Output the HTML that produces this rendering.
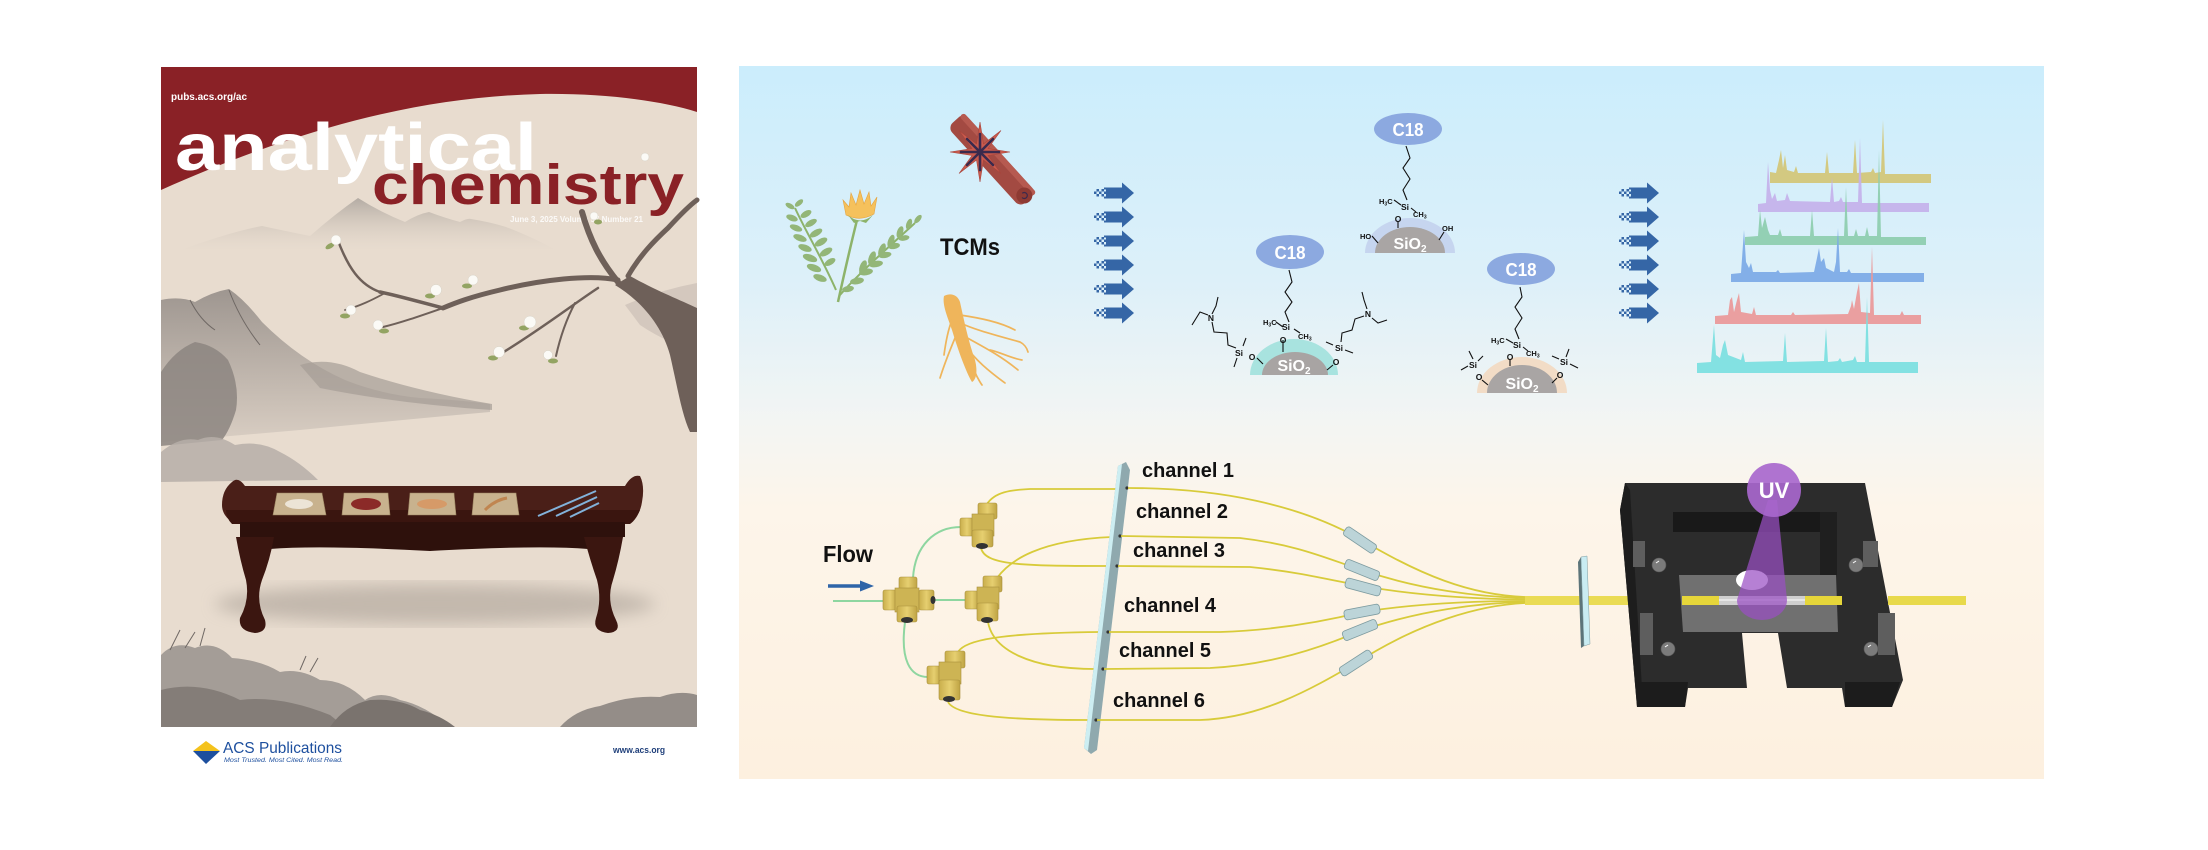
<!DOCTYPE html>
<html><head><meta charset="utf-8"><style>
html,body{margin:0;padding:0;background:#fff;}
svg{display:block;font-family:"Liberation Sans",Arial,sans-serif;}
</style></head><body>
<svg width="2208" height="850" viewBox="0 0 2208 850" xmlns="http://www.w3.org/2000/svg">
<defs>
<linearGradient id="pg" x1="0" y1="0" x2="0" y2="1">
<stop offset="0" stop-color="#cbedfc"/><stop offset="0.3" stop-color="#ddf0f9"/><stop offset="0.5" stop-color="#f3f5f3"/><stop offset="0.62" stop-color="#fdf5ea"/><stop offset="1" stop-color="#fdf0df"/>
</linearGradient>
<linearGradient id="m1" x1="0" y1="0" x2="0" y2="1"><stop offset="0" stop-color="#b3aba3"/><stop offset="1" stop-color="#e8dccf" stop-opacity="0.2"/></linearGradient>
<linearGradient id="m2" x1="0" y1="0" x2="0" y2="1"><stop offset="0" stop-color="#9e9690"/><stop offset="1" stop-color="#d9cec3"/></linearGradient>
<linearGradient id="fy" x1="0" y1="0" x2="1" y2="0"><stop offset="0" stop-color="#c9ae4c"/><stop offset="0.5" stop-color="#e6cf70"/><stop offset="1" stop-color="#bfa444"/></linearGradient>
<filter id="bl8"><feGaussianBlur stdDeviation="8"/></filter>
<g id="arr">
<rect x="0" y="-1.5" width="2.5" height="2.5" fill="#3566a6"/><rect x="2.5" y="-4" width="2.5" height="2.5" fill="#3566a6"/><rect x="2.5" y="1" width="2.5" height="2.5" fill="#3566a6"/><rect x="5" y="-1.5" width="2.5" height="2.5" fill="#3566a6"/><rect x="7.5" y="-4" width="2.5" height="2.5" fill="#3566a6"/><rect x="7.5" y="1" width="2.5" height="2.5" fill="#3566a6"/><rect x="10" y="-1.5" width="2.5" height="2.5" fill="#3566a6"/><rect x="10" y="-5.5" width="2" height="2" fill="#3566a6"/><rect x="10" y="3.5" width="2" height="2" fill="#3566a6"/>
<polygon points="12,-5.5 28,-5.5 28,-10.5 40,0 28,10.5 28,5.5 12,5.5" fill="#3566a6"/>
</g>
</defs>

<!-- ================= COVER ================= -->
<rect x="161" y="67" width="536" height="660" fill="#e8dccf"/>
<path d="M175,252 Q230,232 262,226 Q290,232 310,236 Q335,214 358,198 Q380,212 405,222 Q418,214 429,212 Q445,218 460,222 Q468,218 471,219 Q490,222 506,227 Q530,236 560,252 Z" fill="url(#m1)"/>
<path d="M625,305 Q660,290 697,283 V350 Q670,345 640,325 Z" fill="#c7bbb2" opacity="0.6"/>
<path d="M161,300 Q180,296 195,302 Q212,292 229,289 Q245,300 262,322 Q300,360 345,380 Q380,394 420,398 Q460,400 490,404 L490,412 Q400,420 300,430 L161,442 Z" fill="url(#m2)"/>
<path d="M300,365 Q330,356 360,372 Q420,392 492,404 L492,410 Q400,404 320,388 Z" fill="#a59d96" opacity="0.7"/>
<path d="M161,372 Q175,350 195,342 Q215,345 228,360 Q240,385 236,410 Q230,430 222,440 L161,446 Z" fill="#8c8580" opacity="0.85"/>
<path d="M190,300 Q200,320 215,330 M229,290 Q240,320 260,345" stroke="#6f6864" stroke-width="1" fill="none"/>
<path d="M161,452 Q180,436 198,440 Q215,432 235,445 Q260,440 280,452 Q300,462 318,480 L161,482 Z" fill="#b6aea8" opacity="0.85"/>
<path d="M161,67 H697 V112 C660,100 600,93 540,94 C420,97 300,128 161,190 Z" fill="#8a2126"/>
<text x="171" y="100" font-size="10" font-weight="bold" fill="#fff" textLength="76" lengthAdjust="spacingAndGlyphs">pubs.acs.org/ac</text>
<text x="175" y="170" font-size="67" font-weight="bold" fill="#fff" textLength="362" lengthAdjust="spacingAndGlyphs">analytical</text>
<text x="372" y="204" font-size="57" font-weight="bold" fill="#8a2126" textLength="312" lengthAdjust="spacingAndGlyphs">chemistry</text>
<text x="510" y="222" font-size="8" font-weight="bold" fill="#fff" opacity="0.85" textLength="133" lengthAdjust="spacingAndGlyphs">June 3, 2025  Volume 97  Number 21</text>
<!-- tree -->
<path d="M697,308 C680,300 655,290 630,276 L615,285 C640,300 662,325 670,355 C678,390 682,415 690,432 L697,432 Z" fill="#6e6059"/>
<g stroke="#6e6059" fill="none" stroke-linecap="round">
<path d="M618,282 C600,260 590,240 582,212" stroke-width="6"/>
<path d="M628,276 C640,255 655,240 668,228 C680,215 690,205 697,200" stroke-width="5"/>
<path d="M618,280 C590,274 540,280 500,290 C470,297 455,303 443,308" stroke-width="5"/>
<path d="M443,308 C420,302 395,295 380,292" stroke-width="3.5"/>
<path d="M380,292 C360,285 348,268 337,238" stroke-width="2.5"/>
<path d="M443,308 C420,316 400,323 383,327" stroke-width="2"/>
<path d="M385,293 C372,300 360,306 345,310" stroke-width="1.8"/>
<path d="M598,288 C575,303 540,330 502,353" stroke-width="2.5"/>
<path d="M575,303 C566,320 560,338 556,356" stroke-width="2"/>
</g>
<g fill="#93a463">
<ellipse cx="330" cy="246" rx="5" ry="2.5" transform="rotate(-30 330 246)"/><ellipse cx="430" cy="296" rx="5" ry="2.5"/><ellipse cx="467" cy="286" rx="5" ry="2.5"/><ellipse cx="345" cy="316" rx="5" ry="2.5"/><ellipse cx="384" cy="331" rx="5" ry="2.5"/><ellipse cx="524" cy="328" rx="5" ry="2.5"/><ellipse cx="493" cy="358" rx="5" ry="2.5"/><ellipse cx="553" cy="361" rx="5" ry="2.5"/><ellipse cx="598" cy="222" rx="4" ry="2.5"/>
</g>
<g fill="#fbfaf6" stroke="#d8d4c8" stroke-width="0.5">
<circle cx="336" cy="240" r="5"/><circle cx="436" cy="290" r="5.5"/><circle cx="473" cy="280" r="5"/><circle cx="351" cy="310" r="5"/><circle cx="378" cy="325" r="5"/><circle cx="530" cy="322" r="6"/><circle cx="499" cy="352" r="5.5"/><circle cx="548" cy="355" r="4.5"/><circle cx="594" cy="216" r="4"/><circle cx="645" cy="157" r="4"/>
</g>
<ellipse cx="435" cy="604" rx="220" ry="20" fill="#a59b92" opacity="0.55" filter="url(#bl8)"/>
<!-- table -->
<path d="M232,482 Q238,476 245,486 L625,486 Q632,474 640,476 Q645,486 642,502 Q640,516 630,522 L232,522 Q222,515 222,505 Q222,490 232,482 Z" fill="#4a1f18"/>
<path d="M226,510 L640,510 Q636,520 630,524 L232,524 Q226,518 226,510 Z" fill="#3a150f"/>
<rect x="240" y="522" width="385" height="15" fill="#2e110c"/>
<path d="M270,537 L588,537 L588,549 Q540,545 430,551 Q320,545 270,549 Z" fill="#2e110c"/>
<path d="M236,537 L274,537 Q270,560 262,580 Q255,600 265,620 Q268,632 255,633 Q238,631 240,618 Q250,600 246,580 Q240,560 236,537 Z" fill="#3b1610"/>
<path d="M584,537 L623,537 Q619,560 613,580 Q606,600 616,620 Q622,632 608,633 Q592,631 596,618 Q602,600 597,580 Q590,560 584,537 Z" fill="#3b1610"/>
<g stroke="#9a8460" stroke-width="0.6">
<polygon points="277,493 322,493 326,515 273,515" fill="#c8b28e"/>
<polygon points="344,493 388,493 390,515 342,515" fill="#c8b28e"/>
<polygon points="410,493 454,493 456,515 408,515" fill="#c8b28e"/>
<polygon points="474,493 516,493 519,515 472,515" fill="#c8b28e"/>
</g>
<ellipse cx="299" cy="504" rx="14" ry="5" fill="#ece4d6"/>
<ellipse cx="366" cy="504" rx="15" ry="6" fill="#8b2a28"/>
<ellipse cx="432" cy="504" rx="15" ry="5" fill="#d69a68"/>
<path d="M485,510 Q495,500 507,498" stroke="#c08550" stroke-width="3" fill="none"/>
<g stroke="#82b2da" stroke-width="2"><line x1="538" y1="516" x2="596" y2="491"/><line x1="556" y1="516" x2="597" y2="497"/><line x1="570" y1="517" x2="599" y2="503"/></g>
<!-- bottom rocks -->
<path d="M161,655 Q175,640 195,648 Q215,640 232,658 Q260,660 280,672 Q300,668 320,680 Q345,680 365,700 Q380,690 400,700 Q425,705 450,727 L161,727 Z" fill="#a49d97"/>
<path d="M161,690 Q200,680 240,700 Q280,695 330,715 L345,727 L161,727 Z" fill="#847d78"/>
<path d="M330,727 Q345,705 370,700 Q400,698 420,710 Q440,715 455,727 Z" fill="#7a736e"/>
<path d="M560,727 Q575,710 600,706 Q630,695 660,697 Q680,690 697,695 V727 Z" fill="#948d88"/>
<path d="M170,650 L180,630 M185,648 L195,632 M200,646 L205,628 M300,670 L306,656 M310,672 L318,658" stroke="#6f6864" stroke-width="1"/>
<!-- ACS footer -->
<polygon points="193,751 206,741 220,751" fill="#f4c21c"/>
<polygon points="193,751 220,751 206,764" fill="#1d4f9e"/>
<text x="223" y="753" font-size="16" fill="#1d4f9e" textLength="119" lengthAdjust="spacingAndGlyphs">ACS Publications</text>
<text x="224" y="762" font-size="6.5" font-style="italic" fill="#1d4f9e" textLength="119" lengthAdjust="spacingAndGlyphs">Most Trusted. Most Cited. Most Read.</text>
<text x="613" y="753" font-size="9" font-weight="bold" fill="#1f3f7a" textLength="52" lengthAdjust="spacingAndGlyphs">www.acs.org</text>

<!-- ================= RIGHT PANEL ================= -->
<rect x="739" y="66" width="1305" height="713" fill="url(#pg)"/>

<!-- plant -->
<g fill="#93b678">
<path d="M838,302 C845,270 852,240 857,220" stroke="#8db36a" stroke-width="2.5" fill="none"/>
<path d="M836,290 C822,258 806,232 795,208" stroke="#8db36a" stroke-width="2" fill="none"/>
<path d="M840,295 C860,272 890,246 915,223" stroke="#8db36a" stroke-width="2" fill="none"/>
<ellipse cx="790" cy="206" rx="5" ry="2.5" transform="rotate(30 790 206)"/><ellipse cx="799" cy="203" rx="5" ry="2.5" transform="rotate(-40 799 203)"/>
<ellipse cx="792" cy="218" rx="6" ry="3" transform="rotate(20 792 218)"/><ellipse cx="806" cy="214" rx="6" ry="3" transform="rotate(-30 806 214)"/>
<ellipse cx="796" cy="228" rx="6.5" ry="3" transform="rotate(20 796 228)"/><ellipse cx="811" cy="223" rx="6.5" ry="3" transform="rotate(-30 811 223)"/>
<ellipse cx="800" cy="238" rx="7" ry="3.2" transform="rotate(20 800 238)"/><ellipse cx="816" cy="233" rx="7" ry="3.2" transform="rotate(-30 816 233)"/>
<ellipse cx="805" cy="248" rx="7" ry="3.3" transform="rotate(20 805 248)"/><ellipse cx="821" cy="242" rx="7" ry="3.3" transform="rotate(-30 821 242)"/>
<ellipse cx="810" cy="258" rx="7.5" ry="3.5" transform="rotate(20 810 258)"/><ellipse cx="826" cy="252" rx="7" ry="3.3" transform="rotate(-30 826 252)"/>
<ellipse cx="814" cy="268" rx="7.5" ry="3.5" transform="rotate(20 814 268)"/><ellipse cx="830" cy="262" rx="6" ry="3" transform="rotate(-30 830 262)"/>
<ellipse cx="820" cy="278" rx="7" ry="3.3" transform="rotate(20 820 278)"/>
<ellipse cx="918" cy="219" rx="5" ry="2.5" transform="rotate(-50 918 219)"/>
<ellipse cx="909" cy="224" rx="5.5" ry="2.7" transform="rotate(-70 909 224)"/><ellipse cx="904" cy="238" rx="5.5" ry="2.7" transform="rotate(-10 904 238)"/>
<ellipse cx="900" cy="232" rx="6" ry="3" transform="rotate(-70 900 232)"/><ellipse cx="894" cy="246" rx="6" ry="3" transform="rotate(-10 894 246)"/>
<ellipse cx="891" cy="241" rx="6.5" ry="3" transform="rotate(-70 891 241)"/><ellipse cx="885" cy="255" rx="6.5" ry="3" transform="rotate(-10 885 255)"/>
<ellipse cx="882" cy="250" rx="7" ry="3.2" transform="rotate(-70 882 250)"/><ellipse cx="876" cy="264" rx="7" ry="3.2" transform="rotate(-10 876 264)"/>
<ellipse cx="872" cy="258" rx="7" ry="3.3" transform="rotate(-70 872 258)"/><ellipse cx="866" cy="272" rx="7" ry="3.3" transform="rotate(-10 866 272)"/>
<ellipse cx="863" cy="267" rx="7" ry="3.3" transform="rotate(-70 863 267)"/><ellipse cx="857" cy="281" rx="7" ry="3.3" transform="rotate(-10 857 281)"/>
<ellipse cx="848" cy="289" rx="6" ry="3" transform="rotate(-10 848 289)"/>
</g>
<path d="M846,215 L843,200 L849,207 L851,193 L856,205 L860,190 L864,204 L869,192 L871,206 L877,197 L874,214 Q860,222 846,215 Z" fill="#f5c15c" stroke="#e4a33f" stroke-width="0.6"/>
<path d="M848,215 Q860,226 873,215 L866,223 L860,221 L854,223 Z" fill="#8db36a"/>
<!-- cinnamon + star anise -->
<g transform="translate(992,160) rotate(47.7)">
<rect x="-54" y="-11" width="108" height="22" rx="7" fill="#a34a42"/>
<rect x="-54" y="-11" width="108" height="6" rx="3" fill="#b65a50"/>
<circle cx="48" cy="0" r="8" fill="#8e3a33"/>
<path d="M48,0 m-3,0 a3,3 0 1 1 3,3" stroke="#3b2a4d" stroke-width="1.2" fill="none"/>
</g>
<polygon points="1010,152 988,155.5 1001,173.5 983.5,160 980,182 976.5,160 959,173.5 972,155.5 950,152 972,148.5 959,130.5 976.5,144 980,122 983.5,144 1001,130.5 988,148.5" fill="#c95a4d" stroke="#a8443b" stroke-width="0.6"/>
<g stroke="#3b2a4d" stroke-width="2.6" stroke-linecap="round"><line x1="980" y1="152" x2="999" y2="152"/><line x1="980" y1="152" x2="993" y2="165"/><line x1="980" y1="152" x2="980" y2="170"/><line x1="980" y1="152" x2="967" y2="165"/><line x1="980" y1="152" x2="961" y2="152"/><line x1="980" y1="152" x2="967" y2="139"/><line x1="980" y1="152" x2="980" y2="134"/><line x1="980" y1="152" x2="993" y2="139"/></g>
<!-- ginseng -->
<path d="M944,296 C952,292 958,296 960,302 C964,320 968,340 975,360 C978,372 976,380 972,382 C966,372 958,350 952,330 C948,318 942,305 944,296 Z" fill="#efb55b"/>
<g stroke="#efb55b" stroke-width="1.7" fill="none" stroke-linecap="round">
<path d="M958,322 C975,330 995,335 1020,342 C1024,344 1027,348 1028,352"/>
<path d="M962,335 C980,345 1000,355 1018,370"/>
<path d="M965,345 C975,360 990,372 1005,383"/>
<path d="M955,338 C950,350 945,362 940,378"/>
<path d="M968,352 C972,365 975,375 982,385"/>
<path d="M960,315 C980,318 1000,322 1015,330"/>
<path d="M952,320 C948,330 946,340 944,355"/>
<path d="M990,350 C1000,352 1010,358 1022,360"/>
</g>
<text x="940" y="255" font-size="24" font-weight="bold" fill="#111" textLength="60" lengthAdjust="spacingAndGlyphs">TCMs</text>

<!-- arrows -->
<use href="#arr" x="1094" y="193"/><use href="#arr" x="1094" y="217"/><use href="#arr" x="1094" y="241"/><use href="#arr" x="1094" y="265"/><use href="#arr" x="1094" y="289"/><use href="#arr" x="1094" y="313"/>
<use href="#arr" x="1619" y="193"/><use href="#arr" x="1619" y="217"/><use href="#arr" x="1619" y="241"/><use href="#arr" x="1619" y="265"/><use href="#arr" x="1619" y="289"/><use href="#arr" x="1619" y="313"/>

<!-- particle 1 -->
<g font-weight="bold" fill="#111">
<path d="M1250,375 A44,36 0 0 1 1338,375 Z" fill="#a8e3df"/>
<path d="M1262,375 A33,23 0 0 1 1328,375 Z" fill="#a8a4a3"/>
<text x="1294" y="371" font-size="16" fill="#fff" text-anchor="middle">SiO<tspan font-size="10" dy="3">2</tspan></text>
<ellipse cx="1290" cy="252" rx="34" ry="17" fill="#8ca9e0"/>
<text x="1290" y="259" font-size="18" fill="#fff" text-anchor="middle" textLength="31" lengthAdjust="spacingAndGlyphs">C18</text>
<g stroke="#111" stroke-width="1.1" fill="none">
<polyline points="1289,322 1285,312 1292,302 1285,292 1292,282 1289,270"/>
<line x1="1283" y1="340" x2="1283" y2="352"/>
<line x1="1283" y1="327" x2="1276" y2="322"/><line x1="1294" y1="329" x2="1300" y2="333"/>
<line x1="1257" y1="358" x2="1263" y2="364"/>
<line x1="1243" y1="346" x2="1246" y2="338"/><line x1="1237" y1="358" x2="1234" y2="367"/>
<polyline points="1236,348 1228,345 1227,333 1214,332 1212,322"/>
<polyline points="1212,314 1216,306 1218,297"/><polyline points="1208,315 1200,312 1192,325"/>
<line x1="1333" y1="365" x2="1327" y2="370"/>
<line x1="1333" y1="345" x2="1326" y2="342"/><line x1="1345" y1="350" x2="1353" y2="353"/>
<polyline points="1341,342 1342,333 1352,330 1355,319 1364,316"/>
<polyline points="1367,309 1364,300 1362,292"/><polyline points="1372,318 1378,323 1387,320"/>
</g>
<text x="1286" y="330" font-size="8.5" text-anchor="middle">Si</text>
<text x="1263" y="325" font-size="7.5">H<tspan font-size="5" dy="1.5">3</tspan><tspan dy="-1.5">C</tspan></text>
<text x="1298" y="339" font-size="7.5">CH<tspan font-size="5" dy="1.5">3</tspan></text>
<text x="1283" y="343" font-size="8.5" text-anchor="middle">O</text>
<text x="1239" y="356" font-size="8.5" text-anchor="middle">Si</text>
<text x="1252" y="360" font-size="8.5" text-anchor="middle">O</text>
<text x="1211" y="321" font-size="8.5" text-anchor="middle">N</text>
<text x="1339" y="351" font-size="8.5" text-anchor="middle">Si</text>
<text x="1336" y="365" font-size="8.5" text-anchor="middle">O</text>
<text x="1368" y="317" font-size="8.5" text-anchor="middle">N</text>
</g>
<!-- particle 2 -->
<g font-weight="bold" fill="#111">
<path d="M1365,253 A45,35 0 0 1 1455,253 Z" fill="#c6d5ef"/>
<path d="M1375,253 A35,26 0 0 1 1445,253 Z" fill="#a9a5a4"/>
<text x="1410" y="249" font-size="16" fill="#fff" text-anchor="middle">SiO<tspan font-size="10" dy="3">2</tspan></text>
<ellipse cx="1408" cy="129" rx="34" ry="16" fill="#8ca9e0"/>
<text x="1408" y="136" font-size="18" fill="#fff" text-anchor="middle" textLength="31" lengthAdjust="spacingAndGlyphs">C18</text>
<g stroke="#111" stroke-width="1.1" fill="none">
<polyline points="1407,200 1403,190 1410,179 1403,168 1410,158 1406,146"/>
<line x1="1398" y1="221" x2="1398" y2="228"/>
<line x1="1401" y1="205" x2="1394" y2="200"/><line x1="1411" y1="208" x2="1416" y2="212"/>
<line x1="1372" y1="236" x2="1378" y2="243"/><line x1="1444" y1="232" x2="1439" y2="240"/>
</g>
<text x="1405" y="210" font-size="8.5" text-anchor="middle">Si</text>
<text x="1379" y="204" font-size="7.5">H<tspan font-size="5" dy="1.5">3</tspan><tspan dy="-1.5">C</tspan></text>
<text x="1413" y="217" font-size="7.5">CH<tspan font-size="5" dy="1.5">3</tspan></text>
<text x="1398" y="222" font-size="8.5" text-anchor="middle">O</text>
<text x="1360" y="239" font-size="7.5">HO</text>
<text x="1442" y="231" font-size="7.5">OH</text>
</g>
<!-- particle 3 -->
<g font-weight="bold" fill="#111">
<path d="M1477,393 A45,36 0 0 1 1567,393 Z" fill="#f2dcc6"/>
<path d="M1487,393 A35,28 0 0 1 1557,393 Z" fill="#a9a5a4"/>
<text x="1522" y="389" font-size="16" fill="#fff" text-anchor="middle">SiO<tspan font-size="10" dy="3">2</tspan></text>
<ellipse cx="1521" cy="269" rx="34" ry="16" fill="#8ca9e0"/>
<text x="1521" y="276" font-size="18" fill="#fff" text-anchor="middle" textLength="31" lengthAdjust="spacingAndGlyphs">C18</text>
<g stroke="#111" stroke-width="1.1" fill="none">
<polyline points="1519,339 1515,329 1522,318 1515,307 1522,297 1520,287"/>
<line x1="1510" y1="359" x2="1510" y2="366"/>
<line x1="1513" y1="343" x2="1506" y2="339"/><line x1="1523" y1="347" x2="1528" y2="351"/>
<line x1="1482" y1="380" x2="1488" y2="385"/>
<line x1="1473" y1="359" x2="1469" y2="351"/><line x1="1468" y1="366" x2="1461" y2="370"/><line x1="1478" y1="361" x2="1483" y2="356"/>
<line x1="1557" y1="378" x2="1552" y2="383"/>
<line x1="1566" y1="357" x2="1569" y2="349"/><line x1="1570" y1="364" x2="1578" y2="368"/><line x1="1559" y1="359" x2="1552" y2="356"/>
</g>
<text x="1517" y="348" font-size="8.5" text-anchor="middle">Si</text>
<text x="1491" y="343" font-size="7.5">H<tspan font-size="5" dy="1.5">3</tspan><tspan dy="-1.5">C</tspan></text>
<text x="1526" y="356" font-size="7.5">CH<tspan font-size="5" dy="1.5">3</tspan></text>
<text x="1510" y="360" font-size="8.5" text-anchor="middle">O</text>
<text x="1473" y="368" font-size="8.5" text-anchor="middle">Si</text>
<text x="1479" y="380" font-size="8.5" text-anchor="middle">O</text>
<text x="1564" y="365" font-size="8.5" text-anchor="middle">Si</text>
<text x="1560" y="378" font-size="8.5" text-anchor="middle">O</text>
</g>

<!-- chromatograms -->
<path d="M1770,183 L1770,172 L1776,173 L1779,160 L1781,150 L1783,168 L1785,155 L1787,170 L1794,172 L1796,166 L1798,173 L1825,173 L1827,152 L1829,173 L1853,173 L1855,140 L1857,173 L1871,172 L1873,168 L1875,173 L1881,172 L1883,120 L1885,174 L1931,174 L1931,183 Z" fill="#d2c576" opacity="0.92"/>
<path d="M1758,212 L1758,204 L1766,203 L1768,162 L1770,190 L1772,199 L1775,193 L1777,201 L1785,200 L1787,193 L1790,201 L1830,202 L1832,177 L1834,202 L1839,201 L1841,197 L1843,202 L1858,202 L1860,138 L1862,203 L1929,203 L1929,212 Z" fill="#c4b1ea" opacity="0.92"/>
<path d="M1745,245 L1745,237 L1758,236 L1760,210 L1762,228 L1765,217 L1768,230 L1770,235 L1778,235 L1780,229 L1782,236 L1810,236 L1812,210 L1814,236 L1844,236 L1846,187 L1848,236 L1854,236 L1856,229 L1858,236 L1865,236 L1867,227 L1869,236 L1877,236 L1879,150 L1881,237 L1926,237 L1926,245 Z" fill="#8dcdae" opacity="0.92"/>
<path d="M1731,282 L1731,274 L1741,273 L1744,230 L1746,262 L1749,268 L1751,263 L1753,272 L1776,272 L1778,270 L1780,273 L1814,272 L1817,258 L1819,248 L1821,262 L1824,258 L1826,268 L1834,272 L1836,262 L1838,228 L1840,272 L1847,272 L1849,269 L1851,273 L1924,273 L1924,282 Z" fill="#7ba9e6" opacity="0.92"/>
<path d="M1715,324 L1715,316 L1728,315 L1730,300 L1732,297 L1734,312 L1737,300 L1739,293 L1741,312 L1752,314 L1754,307 L1756,315 L1791,315 L1793,312 L1795,315 L1848,314 L1851,306 L1852,300 L1854,309 L1857,292 L1859,283 L1861,312 L1870,313 L1872,247 L1874,315 L1900,315 L1902,311 L1904,315 L1921,315 L1921,324 Z" fill="#ea9898" opacity="0.92"/>
<path d="M1697,373 L1697,363 L1711,362 L1714,325 L1716,355 L1720,358 L1723,345 L1725,340 L1728,355 L1741,360 L1743,352 L1745,362 L1783,361 L1785,333 L1787,362 L1824,361 L1826,328 L1828,362 L1838,361 L1840,358 L1842,362 L1853,360 L1855,356 L1857,362 L1865,362 L1867,297 L1869,362 L1918,362 L1918,373 Z" fill="#7adfe0" opacity="0.92"/>

<!-- ============ bottom: flow system ============ -->
<text x="823" y="562" font-size="23" font-weight="bold" fill="#111" textLength="50" lengthAdjust="spacingAndGlyphs">Flow</text>
<line x1="828" y1="586" x2="862" y2="586" stroke="#2f65a8" stroke-width="3.5"/>
<polygon points="860,580.5 874,586 860,591.5" fill="#2f65a8"/>
<g stroke="#8ed6a0" stroke-width="2" fill="none">
<line x1="833" y1="601" x2="885" y2="601"/>
<line x1="933" y1="600" x2="966" y2="600"/>
<path d="M913,578 C915,545 935,527 961,527"/>
<path d="M905,622 C900,660 910,677 928,677"/>
</g>
<g stroke="#d8cb3a" stroke-width="1.8" fill="none">
<path d="M987,504 C995,492 1010,490 1030,489 L1117,489"/>
<path d="M997,578 C1010,560 1040,540 1112,537"/>
<path d="M981,548 C985,565 1020,566 1108,566"/>
<path d="M958,652 C965,640 1000,633 1100,632"/>
<path d="M988,622 C993,650 1030,669 1095,669"/>
<path d="M948,702 C955,715 1000,720 1088,720"/>
</g>
<!-- fittings -->
<g stroke="#a88f3c" stroke-width="0.6" fill="url(#fy)">
<rect x="883" y="590" width="14" height="20" rx="2"/>
<rect x="899" y="577" width="18" height="15" rx="2"/>
<rect x="895" y="588" width="24" height="24" fill="#cdb454"/>
<rect x="919" y="590" width="15" height="20" rx="2"/>
<rect x="897" y="606" width="20" height="16" rx="2"/>
<rect x="960" y="518" width="14" height="18" rx="2"/>
<rect x="978" y="503" width="19" height="16" rx="2"/>
<rect x="972" y="514" width="22" height="22" fill="#cdb454"/>
<rect x="972" y="530" width="21" height="17" rx="2"/>
<rect x="965" y="591" width="14" height="18" rx="2"/>
<rect x="983" y="576" width="19" height="16" rx="2"/>
<rect x="977" y="587" width="22" height="22" fill="#cdb454"/>
<rect x="977" y="603" width="21" height="18" rx="2"/>
<rect x="927" y="666" width="14" height="18" rx="2"/>
<rect x="945" y="651" width="20" height="17" rx="2"/>
<rect x="939" y="662" width="22" height="22" fill="#cdb454"/>
<rect x="939" y="680" width="21" height="20" rx="2"/>
</g>
<g fill="#333"><ellipse cx="933" cy="600" rx="2.5" ry="4"/><ellipse cx="907" cy="620" rx="6" ry="3"/><ellipse cx="982" cy="546" rx="6" ry="3"/><ellipse cx="987" cy="620" rx="6" ry="3"/><ellipse cx="949" cy="699" rx="6" ry="3"/></g>
<!-- plate -->
<polygon points="1118,466 1126,462 1130,470 1097,750 1091,754 1084,748" fill="#8fa9ae"/>
<polygon points="1118,466 1122,464 1088,751 1084,748" fill="#cdeef2"/>
<g fill="#333"><circle cx="1127" cy="488" r="1.6"/><circle cx="1120" cy="536" r="1.6"/><circle cx="1117" cy="566" r="1.6"/><circle cx="1108" cy="632" r="1.6"/><circle cx="1103" cy="669" r="1.6"/><circle cx="1096" cy="720" r="1.6"/></g>
<g stroke="#d8cb3a" stroke-width="1.8" fill="none">
<path d="M1128,488 C1220,488 1300,505 1360,539 C1420,575 1470,595 1525,597"/>
<path d="M1121,536 L1240,538 C1300,545 1330,560 1362,570 C1420,590 1480,597 1525,598"/>
<path d="M1118,566 L1250,567 C1300,572 1330,580 1362,586 C1420,596 1480,599 1525,599.5"/>
<path d="M1109,632 L1220,632 C1280,630 1330,620 1362,612 C1420,603 1480,601 1525,601"/>
<path d="M1104,669 L1210,668 C1270,665 1320,648 1360,631 C1420,610 1480,603 1525,602"/>
<path d="M1097,720 L1200,720 C1260,718 1310,690 1356,663 C1420,622 1480,605 1525,603"/>
</g>
<text x="1142" y="477" font-size="20" font-weight="bold" fill="#111" textLength="92" lengthAdjust="spacingAndGlyphs">channel 1</text>
<text x="1136" y="518" font-size="20" font-weight="bold" fill="#111" textLength="92" lengthAdjust="spacingAndGlyphs">channel 2</text>
<text x="1133" y="557" font-size="20" font-weight="bold" fill="#111" textLength="92" lengthAdjust="spacingAndGlyphs">channel 3</text>
<text x="1124" y="612" font-size="20" font-weight="bold" fill="#111" textLength="92" lengthAdjust="spacingAndGlyphs">channel 4</text>
<text x="1119" y="657" font-size="20" font-weight="bold" fill="#111" textLength="92" lengthAdjust="spacingAndGlyphs">channel 5</text>
<text x="1113" y="707" font-size="20" font-weight="bold" fill="#111" textLength="92" lengthAdjust="spacingAndGlyphs">channel 6</text>
<g fill="#bcd4d8" stroke="#7d9ba0" stroke-width="0.8">
<rect x="-18" y="-5" width="36" height="10" rx="3" transform="translate(1360,540) rotate(34)"/>
<rect x="-18" y="-5" width="36" height="10" rx="3" transform="translate(1362,570) rotate(22)"/>
<rect x="-18" y="-5" width="36" height="10" rx="3" transform="translate(1363,587) rotate(15)"/>
<rect x="-18" y="-5" width="36" height="10" rx="3" transform="translate(1362,612) rotate(-11)"/>
<rect x="-18" y="-5" width="36" height="10" rx="3" transform="translate(1360,630) rotate(-22)"/>
<rect x="-18" y="-5" width="36" height="10" rx="3" transform="translate(1356,663) rotate(-33)"/>
</g>
<rect x="1525" y="596" width="112" height="9" fill="#e6d63a" opacity="0.85"/>
<polygon points="1578,562 1581,557 1584,646 1581,648" fill="#5c7479"/>
<polygon points="1581,557 1587,556 1590,644 1584,646" fill="#c9ecf2" stroke="#7d9ba0" stroke-width="0.5"/>
<!-- device -->
<polygon points="1625,483 1865,483 1903,680 1892,707 1845,707 1842,688 1787,688 1778,633 1742,633 1747,688 1688,688 1685,707 1637,707 1620,510" fill="#2c2c2c"/>
<polygon points="1620,510 1625,483 1630,490 1642,688 1637,707" fill="#1d1d1d"/>
<polygon points="1637,682 1688,682 1685,707 1637,707" fill="#1c1c1c"/>
<polygon points="1845,682 1900,682 1892,707 1845,707" fill="#1c1c1c"/>
<rect x="1673" y="512" width="154" height="20" fill="#191919"/>
<rect x="1820" y="512" width="17" height="63" fill="#1f1f1f"/>
<polygon points="1679,575 1836,575 1838,632 1683,632" fill="#707070"/>
<rect x="1633" y="541" width="12" height="26" fill="#5e5e5e"/>
<rect x="1640" y="613" width="13" height="42" fill="#5e5e5e"/>
<rect x="1863" y="541" width="15" height="26" fill="#5e5e5e"/>
<rect x="1878" y="613" width="17" height="42" fill="#5e5e5e"/>
<g fill="#7b7b7b" stroke="#555" stroke-width="0.6"><circle cx="1659" cy="565" r="7"/><circle cx="1668" cy="649" r="7"/><circle cx="1856" cy="565" r="7"/><circle cx="1871" cy="649" r="7"/></g>
<g stroke="#fff" stroke-width="1"><line x1="1656" y1="563" x2="1659" y2="561"/><line x1="1665" y1="647" x2="1668" y2="645"/><line x1="1853" y1="563" x2="1856" y2="561"/><line x1="1868" y1="647" x2="1871" y2="645"/></g>
<ellipse cx="1752" cy="580" rx="16" ry="10" fill="#fff"/>
<rect x="1682" y="596" width="160" height="9" fill="#e6d63a"/>
<rect x="1719" y="596" width="86" height="9" fill="#cfcfcf"/>
<line x1="1719" y1="600" x2="1805" y2="600" stroke="#eee" stroke-width="1.5"/>
<rect x="1888" y="596" width="78" height="9" fill="#e6d63a" opacity="0.9"/>
<path d="M1768,500 L1777,500 L1787,600 A25,20 0 0 1 1737,600 Z" fill="#9a4fc4" opacity="0.72"/>
<circle cx="1774" cy="490" r="27" fill="#a867cd" opacity="0.92"/>
<text x="1774" y="498" font-size="22" font-weight="bold" fill="#fff" text-anchor="middle">UV</text>
</svg>
</body></html>
